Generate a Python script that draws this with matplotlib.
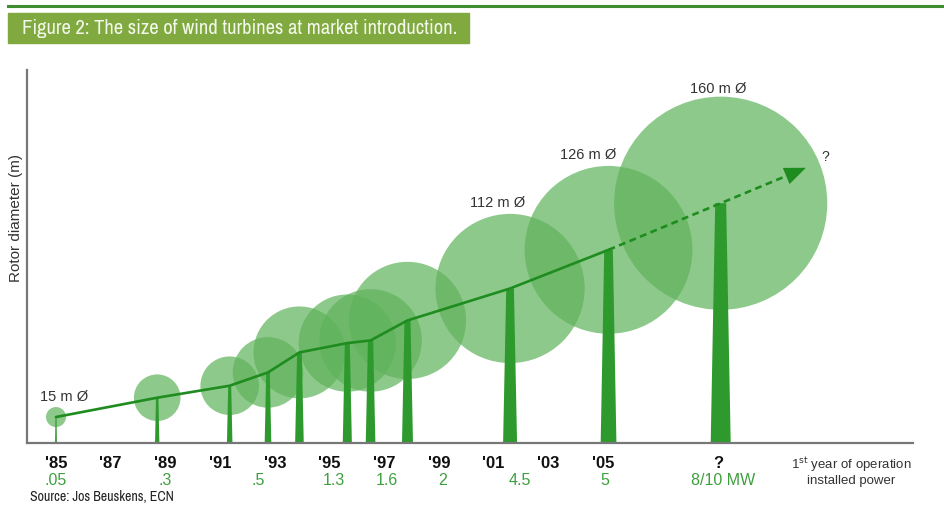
import matplotlib
matplotlib.use("Agg")
import matplotlib.pyplot as plt
from matplotlib import font_manager
from matplotlib.patches import Ellipse, Polygon, Rectangle

# Data
years = [1985.0, 1988.7, 1991.35, 1992.75, 1993.9, 1995.65, 1996.5, 1997.85, 2001.6, 2005.2, 2009.3]
diameters = [15, 35, 44, 53, 69, 73, 77, 88, 112, 126, 160]   # rotor diameter, m
hub_heights = [19.5, 34, 43, 53, 68, 75, 77, 92, 116, 145, 180]  # m
diam_labels = {0: "15 m Ø", 8: "112 m Ø", 9: "126 m Ø", 10: "160 m Ø"}

tick_years = [1985, 1987, 1989, 1991, 1993, 1995, 1997, 1999, 2001, 2003, 2005, 2009.2]
tick_labels = ["'85", "'87", "'89", "'91", "'93", "'95", "'97", "'99", "'01", "'03", "'05", "?"]
power_years = [1985, 1989, 1992.4, 1995.15, 1997.1, 1999.15, 2001.95, 2005.05, 2009.4]
power_labels = [".05", ".3", ".5", "1.3", "1.6", "2", "4.5", "5", "8/10 MW"]

# Colours
circle_col = "#5fb35b"
tower_col = "#2e9a2e"
line_col = "#1e8c1e"
spine_col = "#777777"
power_col = "#3f9f3f"
text_col = "#333333"

# look for a condensed face for the header; otherwise Liberation Sans, smaller
names = {f.name for f in font_manager.fontManager.ttflist}
narrow = [n for n in names if "Condensed" in n or "Narrow" in n]
if narrow:
    head_font, head_size = [sorted(narrow)[0], "DejaVu Sans"], 14.8
else:
    head_font, head_size = ["Liberation Sans", "DejaVu Sans"], 12.5
base_font = ["Liberation Sans", "DejaVu Sans"]
plt.rcParams["font.family"] = base_font

fig = plt.figure(figsize=(9.44, 5.13), dpi=100)
W, H = 944, 513

# header
fig.add_artist(plt.Line2D([8 / W, 1], [1 - 6 / H, 1 - 6 / H], color="#3f8f30", lw=2.2))
fig.add_artist(Rectangle((8 / W, 1 - 43 / H), 461 / W, 30 / H, color="#80aa40",
                         transform=fig.transFigure))
fig.text(22 / W, 1 - 28.5 / H, "Figure 2: The size of wind turbines at market introduction.",
         color="#f4f8ec", fontsize=head_size, va="center", ha="left", family=head_font)

ax = fig.add_axes([27 / W, 70 / H, 886 / W, 373 / H])
x0, x1 = 1983.94, 2016.33
y0, y1 = 0, 280
ax.set_xlim(x0, x1)
ax.set_ylim(y0, y1)
px_x = 886 / (x1 - x0)
px_y = 373 / (y1 - y0)

for s in ["top", "right"]:
    ax.spines[s].set_visible(False)
for s in ["left", "bottom"]:
    ax.spines[s].set_color(spine_col)
    ax.spines[s].set_linewidth(1.6)
ax.set_xticks([])
ax.set_yticks([])

# rotors
for x, h, d in zip(years, hub_heights, diameters):
    ax.add_patch(Ellipse((x, h), width=d * px_y / px_x, height=d,
                         facecolor=circle_col, edgecolor="none", alpha=0.7, zorder=1))

# towers (tapered)
for x, h, d in zip(years, hub_heights, diameters):
    wb = 0.125 * d / px_x / 2
    wt = wb * 0.55
    ax.add_patch(Polygon([(x - wb, 0), (x + wb, 0), (x + wt, h), (x - wt, h)],
                         closed=True, facecolor=tower_col, edgecolor="none", zorder=2))

# trend line through the hubs
ax.plot(years[:-1], hub_heights[:-1], color=line_col, lw=1.9, zorder=3,
        solid_capstyle="round")
# dashed extension with arrow
slope = (hub_heights[-1] - hub_heights[-2]) / (years[-1] - years[-2])
t = 1.76
tip = (years[-2] + t * (years[-1] - years[-2]), hub_heights[-2] + t * (hub_heights[-1] - hub_heights[-2]))
ax.plot([years[-2], tip[0] - 0.3], [hub_heights[-2], tip[1] - 0.3 * slope],
        color=line_col, lw=1.9, ls=(0, (2.6, 1.7)), zorder=3)
back = (tip[0] - 0.05, tip[1] - 0.05 * slope)
ax.annotate("", xy=tip, xytext=back,
            arrowprops=dict(arrowstyle="-|>,head_length=1.1,head_width=0.45",
                            mutation_scale=14, color=line_col, lw=0), zorder=4)
ax.annotate("?", xy=tip, xytext=(14, 8), textcoords="offset points",
            fontsize=10, color=text_col, ha="center", va="center")

# diameter labels
for i, lab in diam_labels.items():
    top = hub_heights[i] + diameters[i] / 2
    dx = 6 if i == 0 else -9 if i == 8 else -15 if i == 9 else -2
    dy = 0.5 if i == 10 else 2.5
    ax.annotate(lab, xy=(years[i], top), xytext=(dx, dy), textcoords="offset points",
                fontsize=10.5, color=text_col, ha="center", va="bottom")

ax.set_ylabel("Rotor diameter (m)", fontsize=11, color=text_col)
ax.yaxis.set_label_coords(-0.0045, 0.603)

# year and power rows under the axis
for x, lab in zip(tick_years, tick_labels):
    ax.annotate(lab, xy=(x, 0), xytext=(0, -14.5), textcoords="offset points",
                fontsize=12, fontweight="bold", color="#111111", ha="center", va="center",
                annotation_clip=False)
for x, lab in zip(power_years, power_labels):
    ax.annotate(lab, xy=(x, 0), xytext=(0, -26.8), textcoords="offset points",
                fontsize=11.5, color=power_col, ha="center", va="center",
                annotation_clip=False)

fig.text(851 / W, 1 - 465 / H, r"1$^{\mathrm{st}}$ year of operation", fontsize=9.5,
         color=text_col, ha="center", va="center")
fig.text(851 / W, 1 - 481 / H, "installed power", fontsize=9.5,
         color=text_col, ha="center", va="center")
fig.text(30 / W, 1 - 497 / H, "Source: Jos Beuskens, ECN", fontsize=10, color="#222222",
         ha="left", va="center", family=head_font)

fig.savefig("out.png", dpi=100)
